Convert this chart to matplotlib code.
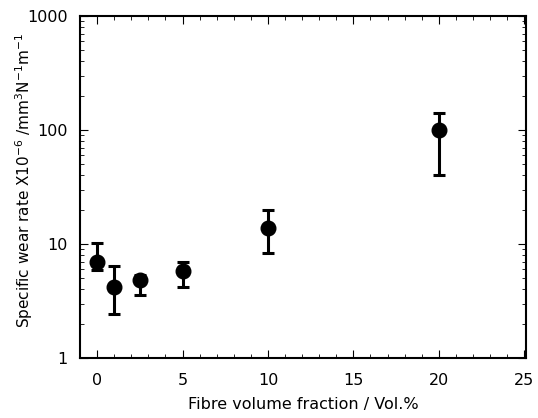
import matplotlib
matplotlib.use("Agg")
import matplotlib.pyplot as plt
import numpy as np
from matplotlib.ticker import MultipleLocator, LogLocator, NullFormatter

fibre = [0, 1, 2.5, 5, 10, 20]
wear = [7.0, 4.2, 4.8, 5.8, 13.9, 100]
err_hi = [10.3, 6.4, 5.3, 7.0, 20.0, 140]
err_lo = [5.9, 2.45, 3.6, 4.2, 8.4, 40]

lower = [w - l for w, l in zip(wear, err_lo)]
upper = [h - w for w, h in zip(wear, err_hi)]

plt.rcParams['font.family'] = ['DejaVu Sans']
fig = plt.figure(figsize=(5.38, 4.18), dpi=100)
ax = fig.add_axes([80/538, 1-358/418, 446/538, 342/418])

ax.errorbar(fibre, wear, yerr=[lower, upper], fmt='o', color='black',
            markersize=10.5, elinewidth=2.2, capsize=4, capthick=2.2, zorder=3)

ax.set_yscale('log')
ax.set_ylim(1, 1000)
ax.set_xlim(-1.0, 25.1)
ax.set_xticks([0, 5, 10, 15, 20, 25])
ax.xaxis.set_minor_locator(MultipleLocator(1))
ax.set_yticks([1, 10, 100, 1000])
ax.set_yticklabels(['1', '10', '100', '1000'])
ax.yaxis.set_minor_locator(LogLocator(base=10, subs=np.arange(2, 10)))
ax.yaxis.set_minor_formatter(NullFormatter())

ax.tick_params(which='both', direction='in', top=True, right=True, labelsize=11.5)
ax.tick_params(axis='x', pad=11)
ax.tick_params(axis='y', pad=9)
ax.tick_params(which='major', length=6, width=0.8)
ax.tick_params(which='minor', length=3, width=0.6)
for s in ax.spines.values():
    s.set_linewidth(1.5)

ax.set_xlabel('Fibre volume fraction / Vol.%', fontsize=11.5, labelpad=6)
ax.set_ylabel('Specific wear rate X10$^{-6}$ /mm$^{3}$N$^{-1}$m$^{-1}$', fontsize=11)
ax.yaxis.set_label_coords(-0.10, 0.52)

fig.savefig('out.png', dpi=100)
